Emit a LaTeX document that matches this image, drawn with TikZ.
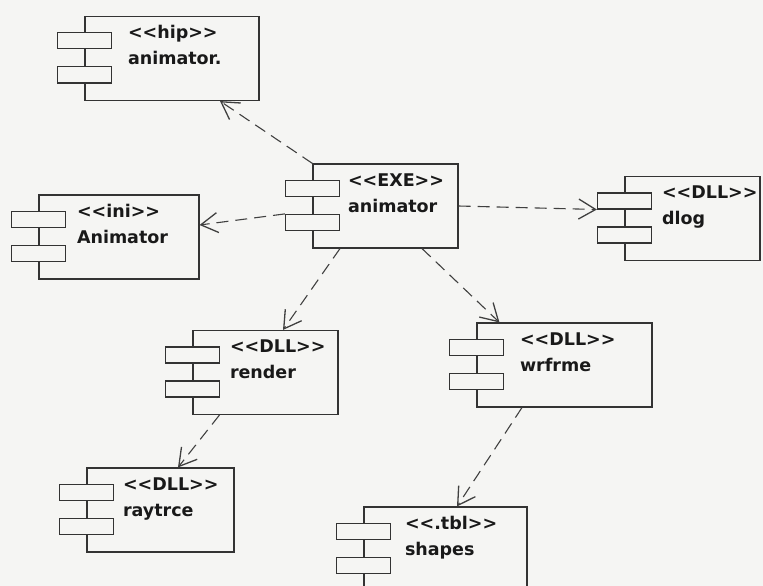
\documentclass[tikz,border=0pt]{standalone}
\usepackage{fontspec}
\newfontfamily\umlfont{DejaVu Sans}
\usetikzlibrary{arrows.meta,calc}
\definecolor{paper}{RGB}{245,245,243}

\begin{document}
\begin{tikzpicture}[x=1pt,y=-1pt,line width=1.1pt,
  comp/.style={draw=black!80,minimum height=84pt,inner sep=0pt},
  tab/.style={draw=black!80,fill=paper,minimum width=54pt,minimum height=16pt,inner sep=0pt},
  lbl/.style={anchor=base west,inner sep=0pt,text=black!90,font=\umlfont\bfseries\fontsize{17.5}{20}\selectfont},
  dep/.style={draw=black!75,dash pattern=on 12pt off 7pt,-{Straight Barb[length=17pt,width=20pt,line width=1.3pt]}}]
\path[use as bounding box,fill=paper] (0,0) rectangle (763,586);
\clip (0,0) rectangle (763,586);
% component bodies
\node[comp,minimum width=174pt] (hip) at (172,58.5) {};
\node[comp,minimum width=160pt] (ini) at (119,237) {};
\node[comp,minimum width=145pt] (exe) at (385.5,206) {};
\node[comp,minimum width=135pt] (dlog) at (692.5,218.5) {};
\node[comp,minimum width=175pt] (wrfrme) at (564.5,365) {};
\node[comp,minimum width=145pt] (render) at (265.5,372.5) {};
\node[comp,minimum width=147pt] (raytrce) at (160.5,510) {};
\node[comp,minimum width=163pt] (shapes) at (445.5,549) {};
% tabs
\node[tab] (hipA) at ($(hip.north west)+(0,25)$) {};
\node[tab] (hipB) at ($(hip.north west)+(0,59)$) {};
\node[tab] (iniA) at ($(ini.north west)+(0,25)$) {};
\node[tab] (iniB) at ($(ini.north west)+(0,59)$) {};
\node[tab] (exeA) at ($(exe.north west)+(0,25)$) {};
\node[tab] (exeB) at ($(exe.north west)+(0,59)$) {};
\node[tab] (dlogA) at ($(dlog.north west)+(0,25)$) {};
\node[tab] (dlogB) at ($(dlog.north west)+(0,59)$) {};
\node[tab] (wrfrmeA) at ($(wrfrme.north west)+(0,25)$) {};
\node[tab] (wrfrmeB) at ($(wrfrme.north west)+(0,59)$) {};
\node[tab] (renderA) at ($(render.north west)+(0,25)$) {};
\node[tab] (renderB) at ($(render.north west)+(0,59)$) {};
\node[tab] (raytrceA) at ($(raytrce.north west)+(0,25)$) {};
\node[tab] (raytrceB) at ($(raytrce.north west)+(0,59)$) {};
\node[tab] (shapesA) at ($(shapes.north west)+(0,25)$) {};
\node[tab] (shapesB) at ($(shapes.north west)+(0,59)$) {};
% labels
\node[lbl] (hipS) at ($(hip.north west)+(43,23)$) {<<hip>>};
\node[lbl] (hipN) at ($(hip.north west)+(43,49)$) {animator.};
\node[lbl] (iniS) at ($(ini.north west)+(38,23)$) {<<ini>>};
\node[lbl] (iniN) at ($(ini.north west)+(38,49)$) {Animator};
\node[lbl] (exeS) at ($(exe.north west)+(35,23)$) {<<EXE>>};
\node[lbl] (exeN) at ($(exe.north west)+(35,49)$) {animator};
\node[lbl] (dlogS) at ($(dlog.north west)+(37,23)$) {<<DLL>>};
\node[lbl] (dlogN) at ($(dlog.north west)+(37,49)$) {dlog};
\node[lbl] (wrfrmeS) at ($(wrfrme.north west)+(43,23)$) {<<DLL>>};
\node[lbl] (wrfrmeN) at ($(wrfrme.north west)+(43,49)$) {wrfrme};
\node[lbl] (renderS) at ($(render.north west)+(37,23)$) {<<DLL>>};
\node[lbl] (renderN) at ($(render.north west)+(37,49)$) {render};
\node[lbl] (raytrceS) at ($(raytrce.north west)+(36,23)$) {<<DLL>>};
\node[lbl] (raytrceN) at ($(raytrce.north west)+(36,49)$) {raytrce};
\node[lbl] (shapesS) at ($(shapes.north west)+(41,23)$) {<<.tbl>>};
\node[lbl] (shapesN) at ($(shapes.north west)+(41,49)$) {shapes};
% dependencies
\draw[dep] (exe.north west) -- ([xshift=48pt]hip.south);
\draw[dep] (exeB.north west) -- ([yshift=12pt]ini.east);
\draw[dep] (exe.east) -- (dlogA.south west);
\draw[dep] ([xshift=-45.5pt]exe.south) -- ([xshift=17.5pt]render.north);
\draw[dep] ([xshift=36.5pt]exe.south) -- ([xshift=23pt]wrfrme.north west);
\draw[dep] ([xshift=27pt]render.south west) -- ([xshift=17.5pt]raytrce.north);
\draw[dep] ([xshift=-42.5pt]wrfrme.south) -- ([xshift=11.5pt]shapes.north);
\end{tikzpicture}
\end{document}
